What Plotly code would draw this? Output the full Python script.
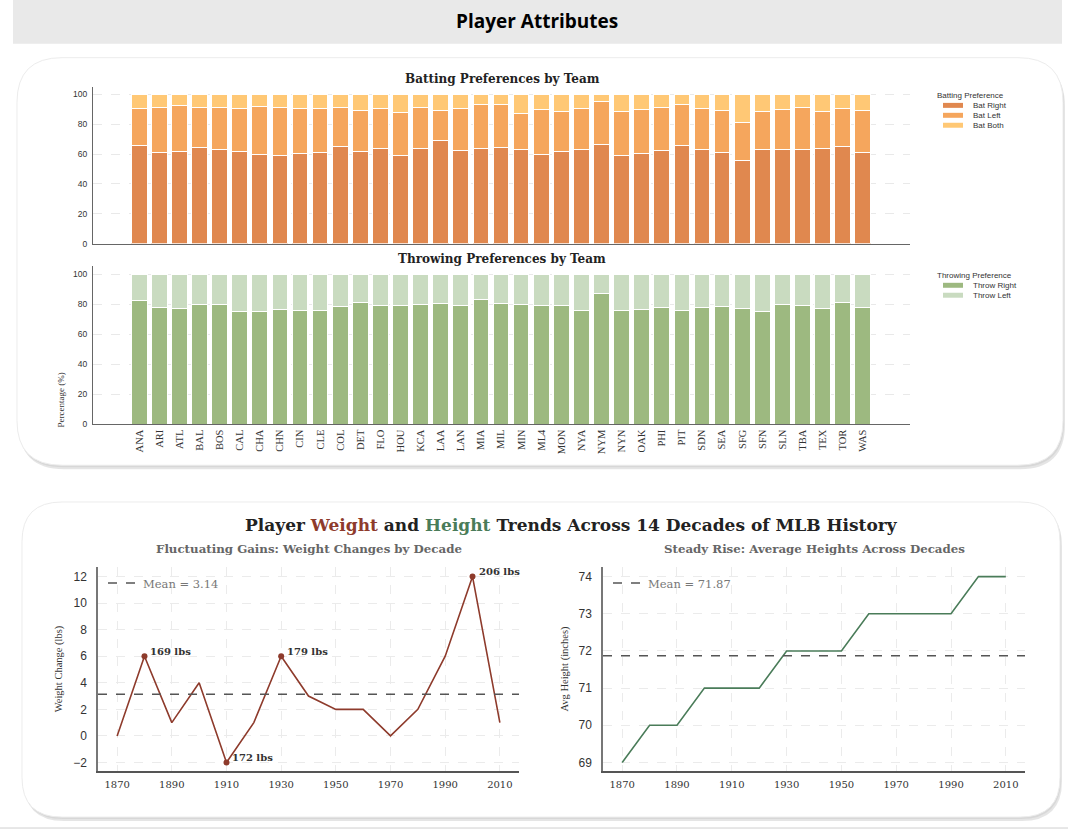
import plotly.graph_objects as go

W, H = 1091, 837

# ---- data ----
teams = ["ANA", "ARI", "ATL", "BAL", "BOS", "CAL", "CHA", "CHN", "CIN", "CLE",
         "COL", "DET", "FLO", "HOU", "KCA", "LAA", "LAN", "MIA", "MIL", "MIN",
         "ML4", "MON", "NYA", "NYM", "NYN", "OAK", "PHI", "PIT", "SDN", "SEA",
         "SFG", "SFN", "SLN", "TBA", "TEX", "TOR", "WAS"]
bat_right = [65.9, 61.3, 62.0, 64.4, 63.3, 62.0, 59.7, 59.3, 60.6, 61.3,
             64.8, 62.0, 63.5, 59.3, 63.5, 68.8, 62.4, 63.9, 64.6, 62.8,
             59.7, 61.5, 63.3, 66.4, 59.3, 60.6, 62.4, 65.7, 63.0, 61.0,
             55.5, 63.0, 63.0, 63.3, 63.7, 65.3, 61.3]
bat_left = [24.6, 29.9, 30.5, 26.8, 27.9, 28.5, 32.1, 31.9, 29.9, 29.2,
            26.4, 27.2, 27.0, 28.5, 27.7, 20.4, 28.1, 29.2, 28.5, 24.4,
            30.3, 26.8, 27.2, 29.2, 29.6, 29.2, 29.2, 27.4, 27.7, 28.4,
            25.7, 25.9, 27.0, 28.3, 25.0, 25.2, 27.9]
bat_both = [9.5, 8.8, 7.5, 8.8, 8.8, 9.5, 8.2, 8.8, 9.5, 9.5,
            8.8, 10.8, 9.5, 12.2, 8.8, 10.8, 9.5, 6.9, 6.9, 12.8,
            10.0, 11.7, 9.5, 4.4, 11.1, 10.2, 8.4, 6.9, 9.3, 10.6,
            18.8, 11.1, 10.0, 8.4, 11.3, 9.5, 10.8]
throw_right = [82.5, 77.9, 77.2, 79.9, 79.9, 75.0, 75.0, 76.3, 75.7, 75.7,
               78.3, 81.2, 79.4, 79.4, 79.6, 80.8, 79.0, 83.0, 80.3, 80.1,
               79.0, 79.4, 75.7, 87.0, 75.7, 76.8, 78.1, 75.7, 77.7, 78.3,
               77.4, 75.0, 79.6, 79.0, 77.0, 81.0, 78.1]
throw_left = [round(100 - v, 1) for v in throw_right]

decades = [1870, 1880, 1890, 1900, 1910, 1920, 1930, 1940, 1950, 1960,
           1970, 1980, 1990, 2000, 2010]
weight_change = [0, 6, 1, 4, -2, 1, 6, 3, 2, 2, 0, 2, 6, 12, 1]
avg_height = [69, 70, 70, 71, 71, 71, 72, 72, 72, 73, 73, 73, 73, 74, 74]
weight_mean = 3.14
height_mean = 71.87
peak_decades = [1880, 1910, 1930, 2000]
peak_labels = ["169 lbs", "172 lbs", "179 lbs", "206 lbs"]

# ---- colours / fonts ----
C_RIGHT, C_LEFT, C_BOTH = "#E0884F", "#F5A65D", "#FFC875"
C_TRIGHT, C_TLEFT = "#9DB980", "#C9DBC0"
C_WEIGHT, C_HEIGHT = "#8E3B2C", "#4A7C59"
SERIF = "DejaVu Serif"
SANS = "Liberation Sans"

batting = [("Bat Right", bat_right, C_RIGHT),
           ("Bat Left", bat_left, C_LEFT),
           ("Bat Both", bat_both, C_BOTH)]
throwing = [("Throw Right", throw_right, C_TRIGHT),
            ("Throw Left", throw_left, C_TLEFT)]


def fx(px):
    return px / W


def fy(py):
    return 1 - py / H


def rounded(x0, y0, x1, y1, r):
    def p(x, y):
        return f"{fx(x):.5f},{fy(y):.5f}"
    return (f"M {p(x0 + r, y0)} L {p(x1 - r, y0)} Q {p(x1, y0)} {p(x1, y0 + r)} "
            f"L {p(x1, y1 - r)} Q {p(x1, y1)} {p(x1 - r, y1)} "
            f"L {p(x0 + r, y1)} Q {p(x0, y1)} {p(x0, y1 - r)} "
            f"L {p(x0, y0 + r)} Q {p(x0, y0)} {p(x0 + r, y0)} Z")


def label(px, py, text, size, family=SERIF, color="#222", **kw):
    fig.add_annotation(x=fx(px), y=fy(py), xref="paper", yref="paper", showarrow=False,
                       xanchor=kw.pop("xanchor", "center"), yanchor="middle",
                       text=text, font=dict(family=family, size=size, color=color), **kw)


fig = go.Figure()

# Batting stacked bars
for name, vals, col in batting:
    fig.add_trace(go.Bar(x=teams, y=vals, name=name, xaxis="x", yaxis="y",
                         marker=dict(color=col, line=dict(color="white", width=1)),
                         showlegend=False))

# Throwing stacked bars
for name, vals, col in throwing:
    fig.add_trace(go.Bar(x=teams, y=vals, name=name, xaxis="x2", yaxis="y2",
                         marker=dict(color=col, line=dict(color="white", width=1)),
                         showlegend=False))

# Weight line
fig.add_trace(go.Scatter(x=decades, y=weight_change, mode="lines", xaxis="x3", yaxis="y3",
                         line=dict(color=C_WEIGHT, width=1.6), showlegend=False))
peak_y = [weight_change[decades.index(d)] for d in peak_decades]
fig.add_trace(go.Scatter(x=peak_decades, y=peak_y, mode="markers", xaxis="x3", yaxis="y3",
                         marker=dict(color=C_WEIGHT, size=6), showlegend=False))
for d, v, lab in zip(peak_decades, peak_y, peak_labels):
    fig.add_annotation(x=d, y=v, xref="x3", yref="y3", text=f"<b>{lab}</b>",
                       showarrow=False, xanchor="left", yanchor="middle",
                       xshift=4, yshift=5, font=dict(family=SERIF, size=10, color="#333"))

# Height line
fig.add_trace(go.Scatter(x=decades, y=avg_height, mode="lines", xaxis="x4", yaxis="y4",
                         line=dict(color=C_HEIGHT, width=1.6), showlegend=False))

# Mean lines (shapes with legend entries)
fig.add_shape(type="line", xref="x3 domain", yref="y3", x0=0, x1=1,
              y0=weight_mean, y1=weight_mean, line=dict(color="#555", width=1.5, dash="dash"),
              showlegend=True, name=f"Mean = {weight_mean:.2f}", legend="legend3")
fig.add_shape(type="line", xref="x4 domain", yref="y4", x0=0, x1=1,
              y0=height_mean, y1=height_mean, line=dict(color="#555", width=1.5, dash="dash"),
              showlegend=True, name=f"Mean = {height_mean:.2f}", legend="legend4")

# Background cards and header band
shapes = []
for (x0, y0, x1, y1, r) in [(17, 58, 1063, 468, 45), (22, 505, 1060, 822, 40)]:
    shapes.append(dict(type="path", xref="paper", yref="paper", layer="below",
                       path=rounded(x0 + 2, y0 + 4, x1 + 2, y1 + 4, r),
                       fillcolor="rgba(0,0,0,0.10)", line=dict(width=0)))
    shapes.append(dict(type="path", xref="paper", yref="paper", layer="below",
                       path=rounded(x0 + 1, y0 + 2, x1 + 1, y1 + 2, r),
                       fillcolor="rgba(0,0,0,0.06)", line=dict(width=0)))
    shapes.append(dict(type="path", xref="paper", yref="paper", layer="below",
                       path=rounded(x0, y0, x1, y1, r),
                       fillcolor="white", line=dict(color="#ececec", width=1)))
shapes.append(dict(type="rect", xref="paper", yref="paper", layer="below",
                   x0=fx(13), x1=fx(1062), y0=fy(44), y1=fy(0),
                   fillcolor="#e9e9e9", line=dict(width=0)))
shapes.append(dict(type="line", xref="paper", yref="paper", layer="below",
                   x0=0, x1=fx(1068), y0=fy(833), y1=fy(833),
                   line=dict(color="#cfcfcf", width=1)))
for s in shapes:
    fig.add_shape(**s)

# Compact legends for the bar charts
for title, items, ty in [("Batting Preference", batting, 96), ("Throwing Preference", throwing, 277)]:
    label(935, ty, title, 8, family=SANS, color="#333", xanchor="left")
    for i, (name, _, col) in enumerate(items):
        yy = ty + 10 * (i + 1)
        fig.add_shape(type="rect", xref="paper", yref="paper", x0=fx(943), x1=fx(963),
                      y0=fy(yy + 2.5), y1=fy(yy - 2.5), fillcolor=col, line=dict(width=0))
        label(971, yy, name, 8, family=SANS, color="#333", xanchor="left")

# Titles
label(537, 21, "<b>Player Attributes</b>", 19, family="Open Sans", color="black")
label(502, 79, "<b>Batting Preferences by Team</b>", 12)
label(502, 261, "<b>Throwing Preferences by Team</b>", 12)
label(61, 403, "Percentage (%)", 9, family="Liberation Serif", color="#333", textangle=-90)
label(571, 528,
      f"<b>Player <span style='color:{C_WEIGHT}'>Weight</span> and "
      f"<span style='color:{C_HEIGHT}'>Height</span> Trends Across 14 Decades of MLB History</b>",
      17)
label(309, 552, "<b>Fluctuating Gains: Weight Changes by Decade</b>", 11.8, color="#666")
label(814, 552, "<b>Steady Rise: Average Heights Across Decades</b>", 11.8, color="#666")

bar_x = dict(type="category", categoryorder="array", categoryarray=teams,
             range=[-2.3, 38.35], showline=True, linecolor="#666", linewidth=1,
             showgrid=False, ticks="", zeroline=False)
bar_y = dict(showline=True, linecolor="#666", linewidth=1, showgrid=True,
             gridcolor="#e9e9e9", griddash="dash", gridwidth=1, zeroline=False,
             tickvals=[0, 20, 40, 60, 80, 100], ticks="", ticklabelstandoff=3,
             tickfont=dict(family=SANS, size=8.5, color="#333"))
line_x = dict(range=[1863, 2017], tickvals=[1870, 1890, 1910, 1930, 1950, 1970, 1990, 2010],
              showline=True, linecolor="#555", linewidth=1.5, showgrid=True,
              gridcolor="#ebebeb", griddash="dash", zeroline=False, ticks="",
              ticklabelstandoff=3, tickfont=dict(family=SERIF, size=10, color="#333"))
line_y = dict(showline=True, linecolor="#777", linewidth=1.5, showgrid=True,
              gridcolor="#ebebeb", griddash="dash", zeroline=False, ticks="",
              ticklabelstandoff=7, tickfont=dict(family=SANS, size=12, color="#333"))

fig.update_layout(
    width=W, height=H, margin=dict(l=0, r=0, t=0, b=0),
    paper_bgcolor="white", plot_bgcolor="rgba(0,0,0,0)",
    barmode="stack", bargap=0.22,
    xaxis=dict(bar_x, domain=[fx(93), fx(910)], anchor="y", showticklabels=False),
    yaxis=dict(bar_y, domain=[fy(245), fy(88)], anchor="x", range=[0, 104.7]),
    xaxis2=dict(bar_x, domain=[fx(93), fx(910)], anchor="y2", tickangle=-90,
                tickfont=dict(family="Liberation Serif", size=10.5, color="#333")),
    yaxis2=dict(bar_y, domain=[fy(427), fy(268)], anchor="x2", range=[0, 105.3]),
    xaxis3=dict(line_x, domain=[fx(98), fx(519)], anchor="y3"),
    yaxis3=dict(line_y, domain=[fy(776), fy(570)], anchor="x3", range=[-2.67, 12.75],
                tickvals=[-2, 0, 2, 4, 6, 8, 10, 12],
                title=dict(text="Weight Change (lbs)", standoff=8,
                           font=dict(family="Liberation Serif", size=10.5, color="#333"))),
    xaxis4=dict(line_x, domain=[fx(603), fx(1025)], anchor="y4"),
    yaxis4=dict(line_y, domain=[fy(776), fy(570)], anchor="x4", range=[68.76, 74.27],
                tickvals=[69, 70, 71, 72, 73, 74],
                title=dict(text="Avg Height (inches)", standoff=8,
                           font=dict(family="Liberation Serif", size=10.5, color="#333"))),
    legend3=dict(x=fx(103), y=fy(572), xanchor="left", yanchor="top", bgcolor="rgba(0,0,0,0)",
                 font=dict(family=SERIF, size=11.5, color="#777")),
    legend4=dict(x=fx(608), y=fy(572), xanchor="left", yanchor="top", bgcolor="rgba(0,0,0,0)",
                 font=dict(family=SERIF, size=11.5, color="#777")),
)

fig.write_html("out.html", config={"displayModeBar": False},
               post_script="document.body.style.margin = '0';")
